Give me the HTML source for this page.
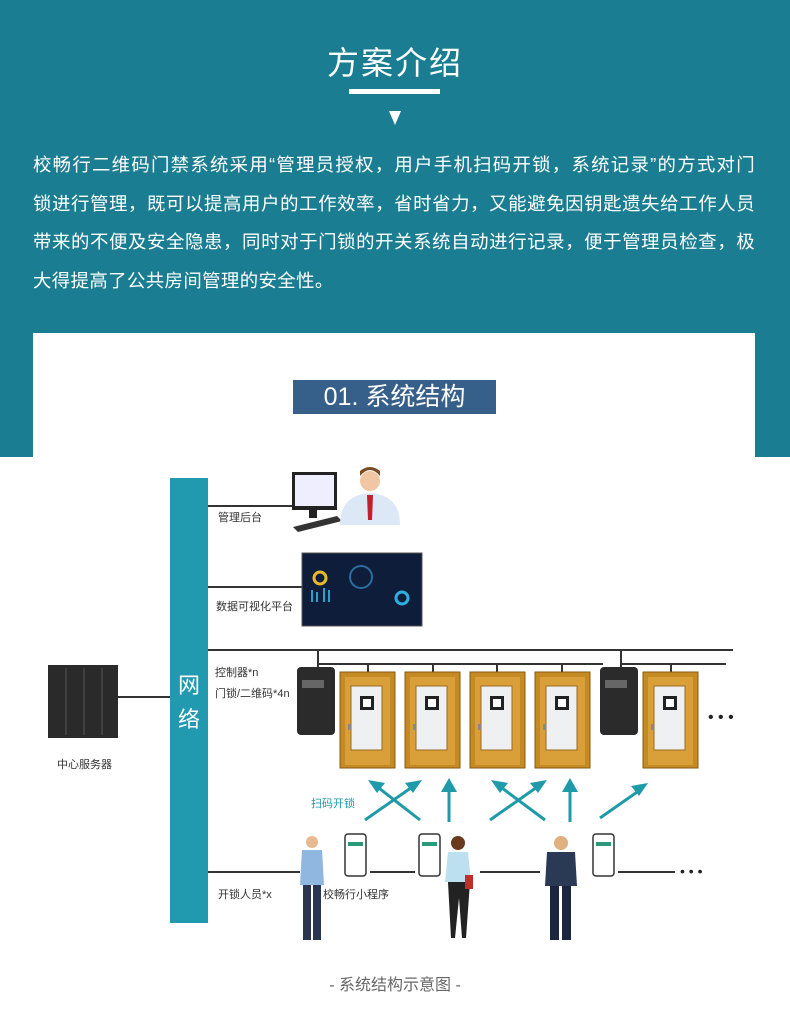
<!DOCTYPE html>
<html><head><meta charset="utf-8"><style>
body{margin:0;width:790px;height:1026px;position:relative;background:#fff;font-family:"Liberation Sans","Noto Sans CJK SC",sans-serif;overflow:hidden}
.top{position:absolute;left:0;top:0;width:790px;height:457px;background:#1a7d91}
.wb{position:absolute;left:33px;top:333px;width:722px;height:124px;background:#fff}
.t{position:absolute;left:0;width:790px;text-align:center;color:#fff}
.p{position:absolute;left:33px;top:146px;width:722px;color:#fff;font-size:18.4px;line-height:38.5px}
.p div{text-align:justify;text-align-last:justify;white-space:nowrap}
.p div.l{text-align-last:left}
.lab{position:absolute;left:293px;top:380px;width:203px;height:34px;background:#365f8a;color:#fff;font-size:25px;line-height:34px;text-align:center}
.s{position:absolute;font-size:11px;color:#333;white-space:nowrap}
</style></head><body>
<div class="top"></div>
<div class="wb"></div>
<div class="t" style="top:38px;font-size:32px;letter-spacing:2px">方案介绍</div>
<div style="position:absolute;left:349px;top:89px;width:91px;height:5px;background:#fff"></div>
<div style="position:absolute;left:389px;top:111px;width:0;height:0;border-left:6.5px solid transparent;border-right:6.5px solid transparent;border-top:14px solid #fff"></div>
<div class="p">
<div style="letter-spacing:0.4px">校畅行二维码门禁系统采用“管理员授权，用户手机扫码开锁，系统记录”的方式对门</div>
<div style="letter-spacing:0.4px">锁进行管理，既可以提高用户的工作效率，省时省力，又能避免因钥匙遗失给工作人员</div>
<div style="letter-spacing:0.4px">带来的不便及安全隐患，同时对于门锁的开关系统自动进行记录，便于管理员检查，极</div>
<div class="l" style="letter-spacing:0.4px">大得提高了公共房间管理的安全性。</div>
</div>
<div class="lab">01. 系统结构</div>

<svg style="position:absolute;left:0;top:457px" width="790" height="569">
<g transform="translate(0,-457)">
<rect x="170" y="478" width="38" height="445" fill="#219aaf"/>
<text x="189" y="693" fill="#fff" font-size="22" text-anchor="middle" font-family="Noto Sans CJK SC">网</text>
<text x="189" y="727" fill="#fff" font-size="22" text-anchor="middle" font-family="Noto Sans CJK SC">络</text>
<g stroke="#333" stroke-width="2" fill="none">
<line x1="208" y1="506" x2="292" y2="506"/>
<line x1="208" y1="587" x2="302" y2="587"/>
<line x1="208" y1="650" x2="733" y2="650"/>
<line x1="318" y1="650" x2="318" y2="667"/>
<line x1="318" y1="664" x2="603" y2="664"/>
<line x1="368" y1="664" x2="368" y2="672"/><line x1="433" y1="664" x2="433" y2="672"/><line x1="497" y1="664" x2="497" y2="672"/><line x1="562" y1="664" x2="562" y2="672"/>
<line x1="621" y1="650" x2="621" y2="667"/>
<line x1="621" y1="664" x2="726" y2="664"/>
<line x1="671" y1="664" x2="671" y2="672"/>
<line x1="118" y1="697" x2="170" y2="697"/>
<line x1="208" y1="872" x2="300" y2="872"/>
<line x1="370" y1="872" x2="415" y2="872"/>
<line x1="480" y1="872" x2="540" y2="872"/>
<line x1="618" y1="872" x2="675" y2="872"/>
</g>
<rect x="292" y="472" width="45" height="38" fill="#222"/><rect x="295" y="475" width="39" height="31" fill="#eef"/>
<rect x="309" y="510" width="8" height="8" fill="#222"/><polygon points="293,527 337,516 342,521 298,532" fill="#333"/>
<circle cx="370" cy="481" r="10" fill="#f1c7a3"/><path d="M360 476 q10-12 20 0 v-5 q-10-8-20 0z" fill="#7a4a25"/>
<path d="M340 525 q0-30 30-32 q30 2 30 32z" fill="#dde8f6"/><polygon points="367,495 373,495 372,520 368,520" fill="#c0202a"/>
<rect x="302" y="553" width="120" height="73" fill="#0d1d3a" stroke="#555"/>
<circle cx="320" cy="578" r="6" fill="none" stroke="#e8b92a" stroke-width="3"/><circle cx="361" cy="577" r="11" fill="none" stroke="#2a6ea0" stroke-width="2"/>
<circle cx="402" cy="598" r="6" fill="none" stroke="#2ab0e0" stroke-width="3"/>
<g fill="#2aa0d0"><rect x="311" y="590" width="2" height="12"/><rect x="316" y="592" width="2" height="10"/><rect x="323" y="588" width="2" height="14"/><rect x="328" y="590" width="2" height="12"/></g>
<rect x="48" y="665" width="70" height="73" fill="#2a2a2a"/>
<g stroke="#555"><line x1="66" y1="668" x2="66" y2="735"/><line x1="84" y1="668" x2="84" y2="735"/><line x1="102" y1="668" x2="102" y2="735"/></g>
<rect x="297" y="667" width="38" height="68" rx="4" fill="#2b2b2b"/><rect x="302" y="680" width="22" height="8" fill="#666"/>
<rect x="600" y="667" width="38" height="68" rx="4" fill="#2b2b2b"/><rect x="605" y="680" width="22" height="8" fill="#666"/>
<defs><g id="door"><rect x="0" y="0" width="55" height="96" fill="#c48a24" stroke="#8a5a10"/><rect x="5" y="5" width="45" height="88" fill="#d9a03a"/><rect x="11" y="14" width="31" height="64" fill="#eef0f2" stroke="#9a6a20"/><rect x="20" y="24" width="14" height="14" fill="#222"/><rect x="23" y="27" width="8" height="8" fill="#fff"/><rect x="8" y="52" width="3" height="6" fill="#888"/></g></defs>
<use href="#door" x="340" y="672"/><use href="#door" x="405" y="672"/><use href="#door" x="470" y="672"/><use href="#door" x="535" y="672"/><use href="#door" x="643" y="672"/>
<text x="708" y="722" font-size="16" fill="#222">• • •</text>
<g stroke="#1f9aa8" stroke-width="3" fill="#1f9aa8">
<line x1="365" y1="820" x2="415" y2="785"/><polygon points="422,780 405,783 413,793" stroke="none"/>
<line x1="420" y1="820" x2="375" y2="785"/><polygon points="368,780 385,783 377,793" stroke="none"/>
<line x1="449" y1="822" x2="449" y2="788"/><polygon points="449,778 441,792 457,792" stroke="none"/>
<line x1="490" y1="820" x2="540" y2="785"/><polygon points="547,780 530,783 538,793" stroke="none"/>
<line x1="545" y1="820" x2="498" y2="785"/><polygon points="491,780 508,783 500,793" stroke="none"/>
<line x1="570" y1="822" x2="570" y2="788"/><polygon points="570,778 562,792 578,792" stroke="none"/>
<line x1="600" y1="818" x2="640" y2="790"/><polygon points="648,783 631,786 639,796" stroke="none"/>
</g>
<g fill="#fff" stroke="#333" stroke-width="1.5"><rect x="345" y="834" width="21" height="42" rx="3"/><rect x="419" y="834" width="21" height="42" rx="3"/><rect x="593" y="834" width="21" height="42" rx="3"/></g>
<g fill="#2a9a7a"><rect x="348" y="842" width="15" height="4"/><rect x="422" y="842" width="15" height="4"/><rect x="596" y="842" width="15" height="4"/></g>
<circle cx="312" cy="842" r="6" fill="#e9b98f"/><path d="M302 850 h20 l2 35 h-24z" fill="#8fb7e0"/><rect x="303" y="885" width="8" height="55" fill="#2a3550"/><rect x="313" y="885" width="8" height="55" fill="#2a3550"/>
<circle cx="458" cy="843" r="7" fill="#6a3a20"/><path d="M448 852 h20 l3 30 h-26z" fill="#bde0f0"/><path d="M448 882 h22 l-4 56 h-4 l-3-40 -4 40 h-4z" fill="#222"/><rect x="465" y="875" width="8" height="14" fill="#c0302a"/>
<circle cx="561" cy="843" r="7" fill="#e0b080"/><path d="M547 852 h28 l2 34 h-32z" fill="#2a3a55"/><rect x="550" y="886" width="9" height="54" fill="#1a2540"/><rect x="562" y="886" width="9" height="54" fill="#1a2540"/>
<text x="680" y="876" font-size="14" fill="#222">• • •</text>
</g></svg>
<div class="s" style="left:218px;top:509px">管理后台</div>
<div class="s" style="left:216px;top:598px">数据可视化平台</div>
<div class="s" style="left:215px;top:664px">控制器*n</div>
<div class="s" style="left:215px;top:685px">门锁/二维码*4n</div>
<div class="s" style="left:57px;top:756px">中心服务器</div>
<div class="s" style="left:311px;top:795px;color:#1f9aa8">扫码开锁</div>
<div class="s" style="left:218px;top:886px">开锁人员*x</div>
<div class="s" style="left:323px;top:886px">校畅行小程序</div>
<div class="t" style="top:971px;color:#666;font-size:16px">- 系统结构示意图 -</div>
</body></html>
